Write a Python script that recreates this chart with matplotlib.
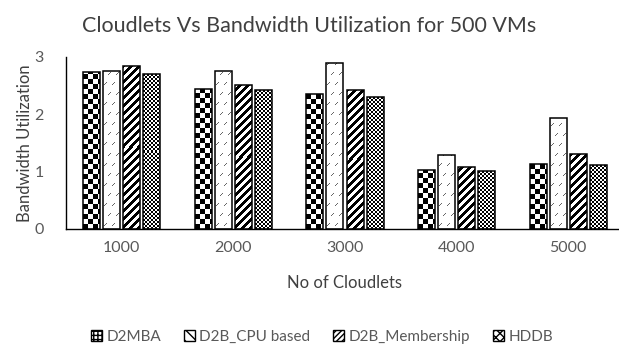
import numpy as np
import matplotlib
matplotlib.use("Agg")
import matplotlib.pyplot as plt
from matplotlib.patches import Patch

plt.rcParams['font.family'] = ['Lato', 'DejaVu Sans']

cloudlets = ["1000", "2000", "3000", "4000", "5000"]
series = ["D2MBA", "D2B_CPU based", "D2B_Membership", "HDDB"]
d2mba = [2.73, 2.45, 2.35, 1.03, 1.13]
d2b_cpu = [2.76, 2.76, 2.90, 1.29, 1.93]
d2b_membership = [2.85, 2.52, 2.43, 1.08, 1.30]
hddb = [2.71, 2.43, 2.30, 1.01, 1.11]

TEXT = "#404040"
TICK = "#595959"


def big_checker(i, j):
    return ((i // 5 + j // 5) % 2).astype(float)


def small_checker(i, j):
    return ((i // 2 + j // 2) % 2).astype(float)


def stripes(i, j):
    return ((i - j) % 8 >= 4).astype(float)


def dashes(i, j):
    img = np.ones(i.shape)
    ti = i % 10
    tj = (j + 4 * ((i // 10) % 2)) % 8
    mark = (ti - tj == 2) & (tj >= 1) & (tj <= 3)
    img[mark] = 0.4
    return img


patterns = [big_checker, dashes, stripes, small_checker]
legend_hatch = ['++++', '\\\\\\', '//////', 'xxxx']

fig = plt.figure(figsize=(6.19, 3.54), dpi=100)
fig.patch.set_facecolor("white")
ax = fig.add_axes([66 / 619, 1 - 229 / 354, 558 / 619, 172 / 354])

values = [d2mba, d2b_cpu, d2b_membership, hddb]
x = np.arange(len(cloudlets))
pitch = 0.18
width = 0.152

ax.set_xlim(-0.5, len(cloudlets) - 0.5)
ax.set_ylim(0, 3)

# data units -> pixels
px_x = ax.bbox.width / (len(cloudlets))
px_y = ax.bbox.height / 3.0

for k, vals in enumerate(values):
    offs = (k - 1.5) * pitch
    bars = ax.bar(x + offs, vals, width, facecolor="none", edgecolor="black",
                  linewidth=1.1, zorder=3)
    for rect, v in zip(bars, vals):
        x0 = rect.get_x()
        w_px = max(int(round(width * px_x)), 1)
        h_px = max(int(round(v * px_y)), 1)
        ii, jj = np.mgrid[0:h_px, 0:w_px]
        img = patterns[k](ii[::-1], jj)
        im = ax.imshow(img, cmap="gray", vmin=0, vmax=1, origin="upper",
                       extent=[x0, x0 + width, 0, v], aspect="auto",
                       interpolation="nearest", zorder=2)
        im.set_clip_path(rect)

ax.set_xlim(-0.5, len(cloudlets) - 0.5)
ax.set_ylim(0, 3)
ax.set_xticks(x)
ax.set_xticklabels(cloudlets)
ax.set_yticks([0, 1, 2, 3])
ax.tick_params(length=0, labelsize=11.5, labelcolor=TICK, pad=9)
ax.tick_params(axis='y', pad=16)
for s in ["top", "right"]:
    ax.spines[s].set_visible(False)
ax.spines["left"].set_color("black")
ax.spines["bottom"].set_color("black")
ax.spines["left"].set_linewidth(1.0)
ax.spines["bottom"].set_linewidth(1.0)

ax.set_xlabel("No of Cloudlets", fontsize=12, color=TEXT, labelpad=14)
ax.set_ylabel("Bandwidth Utilization", fontsize=12, color=TEXT, labelpad=1)
fig.suptitle("Cloudlets Vs Bandwidth Utilization for 500 VMs", fontsize=15.5,
             color=TEXT, y=0.955)

handles = [Patch(facecolor="white", edgecolor="black", hatch=h, label=s)
           for h, s in zip(legend_hatch, series)]
fig.legend(handles=handles, loc="center", bbox_to_anchor=(0.52, 0.048), ncol=4,
           frameon=False, fontsize=11, handlelength=0.7, handleheight=0.7,
           handletextpad=0.3, columnspacing=1.5, labelcolor=TICK)

fig.savefig("out.png", dpi=100, facecolor="white")
